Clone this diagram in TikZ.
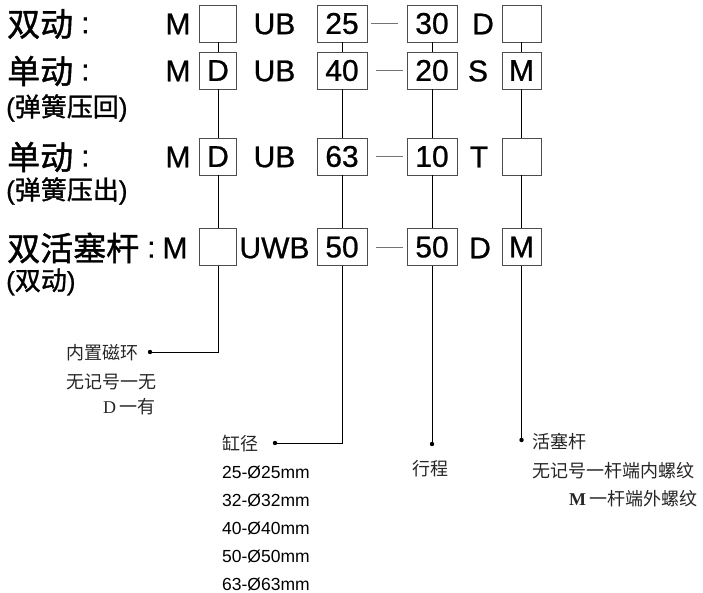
\documentclass[tikz,border=0pt]{standalone}
\usepackage{fontspec}
\setmainfont{Liberation Sans}
\newfontfamily\heavy[FakeBold=0.8]{Liberation Sans}
\newfontfamily\cjk{Noto Sans CJK SC}
\newfontfamily\cjkheavy[FakeBold=1.2]{Noto Sans CJK SC}
\newfontfamily\serifL{Liberation Serif}
\begin{document}
\begin{tikzpicture}[x=1pt,y=-1pt,
  box/.style={draw=black!70, line width=0.8pt, minimum height=37pt, inner sep=0pt,
    font=\heavy\fontsize{30}{30}\selectfont},
  boxA/.style={box, minimum width=37pt},
  boxB/.style={box, minimum width=50pt},
  boxC/.style={box, minimum width=50pt},
  boxD/.style={box, minimum width=39pt},
  big/.style={inner sep=0pt, font=\heavy\fontsize{30}{30}\selectfont},
  bigcjk/.style={inner sep=0pt, anchor=west, font=\cjkheavy\fontsize{33}{33}\selectfont},
  subcjk/.style={inner sep=0pt, anchor=west, font=\cjkheavy\fontsize{26}{26}\selectfont},
  lab/.style={inner sep=0pt, anchor=west, text=black!85, font=\cjk\fontsize{18}{18}\selectfont},
  mm/.style={inner sep=0pt, anchor=west, font=\fontsize{17.5}{17.5}\selectfont},
  conn/.style={draw=black, line width=0.9pt},
  dashline/.style={draw=black!55, line width=0.8pt},
  dot/.style={fill=black}
]
\useasboundingbox (0,0) rectangle (703,593);

% row labels
\newcommand{\colonB}{\raisebox{3pt}{\heavy\fontsize{30}{30}\selectfont :}}
\newcommand{\parL}[1]{{\heavy\fontsize{26}{26}\selectfont #1}}
\node[bigcjk] (l1) at (7,24) {双动\hspace{8pt}\colonB};
\node[bigcjk] (l2) at (7,71) {单动\hspace{8pt}\colonB};
\node[subcjk] (s2) at (6,108) {\parL{(}弹簧压回\parL{)}};
\node[bigcjk] (l3) at (7,157) {单动\hspace{8pt}\colonB};
\node[subcjk] (s3) at (6,191) {\parL{(}弹簧压出\parL{)}};
\node[bigcjk] (l4) at (7,248) {双活塞杆\hspace{8pt}\colonB};
\node[subcjk] (s4) at (6,282) {\parL{(}双动\parL{)}};

% letters
\node[big] (m1) at (178,24) {M};
\node[big] (m2) at (178,71) {M};
\node[big] (m3) at (178,157) {M};
\node[big] (m4) at (175,248) {M};
\node[big] (u1) at (274.5,24) {UB};
\node[big] (u2) at (274.5,71) {UB};
\node[big] (u3) at (274.5,157) {UB};
\node[big] (u4) at (274.5,248) {UWB};
\node[big] (t1) at (483,24) {D};
\node[big] (t2) at (478,71) {S};
\node[big] (t3) at (479,157) {T};
\node[big] (t4) at (480,248) {D};

% boxes
\node[boxA] (a1) at (218,23.5) {};
\node[boxA] (a2) at (218,70.5) {D};
\node[boxA] (a3) at (218,156.5) {D};
\node[boxA] (a4) at (218,247) {};
\node[boxB] (b1) at (342,23.5) {25};
\node[boxB] (b2) at (342,70.5) {40};
\node[boxB] (b3) at (342,156.5) {63};
\node[boxB] (b4) at (342,247) {50};
\node[boxC] (c1) at (432,23.5) {30};
\node[boxC] (c2) at (432,70.5) {20};
\node[boxC] (c3) at (432,156.5) {10};
\node[boxC] (c4) at (432,247) {50};
\node[boxD] (d1) at (521.5,23.5) {};
\node[boxD] (d2) at (521.5,70.5) {M};
\node[boxD] (d3) at (521.5,156.5) {};
\node[boxD] (d4) at (521.5,247) {M};

% dashes
\draw[dashline] ([xshift=4pt]b1.east) -- ([xshift=-9pt]c1.west);
\draw[dashline] ([xshift=9pt]b2.east) -- ([xshift=-4pt]c2.west);
\draw[dashline] ([xshift=9pt]b3.east) -- ([xshift=-4pt]c3.west);
\draw[dashline] ([xshift=9pt]b4.east) -- ([xshift=-4pt]c4.west);

% column connectors
\foreach \c in {a,b,c,d}{
  \draw[conn] (\c1.south) -- (\c2.north);
  \draw[conn] (\c2.south) -- (\c3.north);
  \draw[conn] (\c3.south) -- (\c4.north);
}
\coordinate (pA) at (150,352);
\coordinate (pB) at (275,443);
\coordinate (pC) at (432,444);
\coordinate (pD) at (521.5,440);
\draw[conn] (a4.south) |- (pA);
\draw[conn] (b4.south) |- (pB);
\draw[conn] (c4.south) -- (pC);
\draw[conn] (d4.south) -- (pD);
\foreach \p in {pA,pB,pC,pD}{\fill[dot] (\p) circle (2.2pt);}

% lower labels
\node[lab] (nA1) at (66,353) {内置磁环};
\node[lab] (nA2) at (66,382) {无记号一无};
\node[lab] (nA3) at (103,407) {{\serifL D}\,一有};

\node[lab] (nB1) at (222,444) {缸径};
\node[mm] (nB2) at (222,472) {25-Ø25mm};
\node[mm] (nB3) at (222,500) {32-Ø32mm};
\node[mm] (nB4) at (222,528) {40-Ø40mm};
\node[mm] (nB5) at (222,556) {50-Ø50mm};
\node[mm] (nB6) at (222,584) {63-Ø63mm};

\node[lab] (nC1) at (412,469) {行程};

\node[lab] (nD1) at (532,442) {活塞杆};
\node[lab] (nD2) at (532,471) {无记号一杆端内螺纹};
\node[lab] (nD3) at (569,499) {{\serifL\bfseries M}\,一杆端外螺纹};
\end{tikzpicture}
\end{document}
